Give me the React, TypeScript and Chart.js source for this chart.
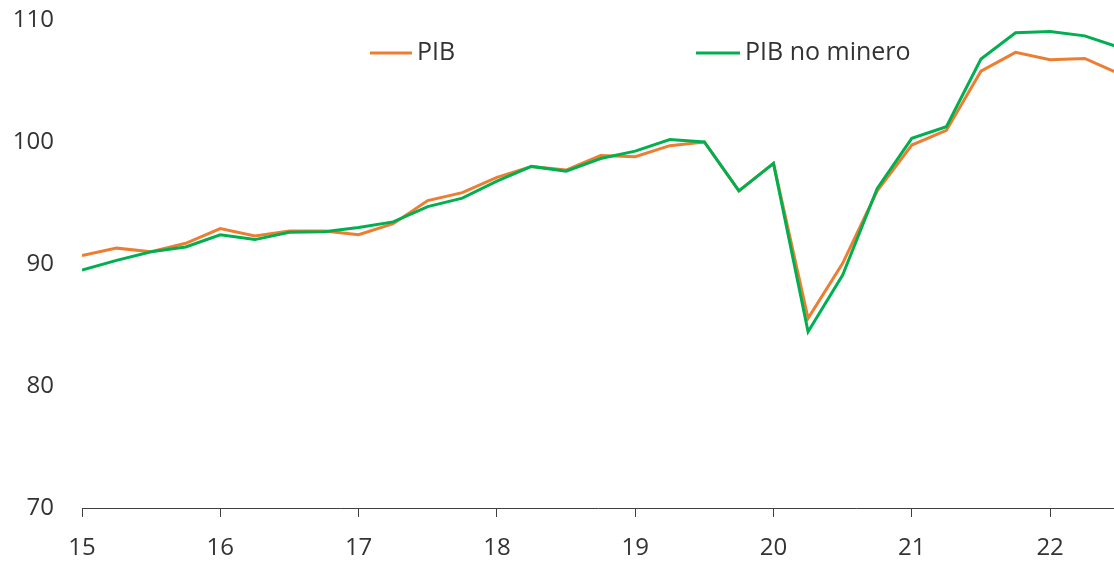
import React, { useEffect, useRef } from "react";
import { Chart, registerables } from "chart.js";

Chart.register(...registerables);

const quarters = [
  15, 15.25, 15.5, 15.75, 16, 16.25, 16.5, 16.75, 17, 17.25, 17.5, 17.75,
  18, 18.25, 18.5, 18.75, 19, 19.25, 19.5, 19.75, 20, 20.25, 20.5, 20.75,
  21, 21.25, 21.5, 21.75, 22, 22.25, 22.5,
];
const pib = [
  90.7, 91.3, 91.0, 91.7, 92.9, 92.3, 92.7, 92.7, 92.4, 93.3, 95.2, 95.85,
  97.1, 98.0, 97.7, 98.9, 98.8, 99.7, 100.0, 96.0, 98.25, 85.55, 90.05, 96.0,
  99.75, 100.95, 105.8, 107.35, 106.75, 106.85, 105.6,
];
const pibNoMinero = [
  89.5, 90.3, 91.0, 91.4, 92.4, 92.0, 92.6, 92.65, 93.0, 93.45, 94.7, 95.4,
  96.8, 98.0, 97.6, 98.65, 99.25, 100.2, 100.0, 96.0, 98.25, 84.45, 89.1, 96.2,
  100.3, 101.25, 106.8, 108.95, 109.05, 108.7, 107.75,
];
const yearTicks = [15, 16, 17, 18, 19, 20, 21, 22];
const yTicks = [70, 80, 90, 100, 110];
const seriesNames = ["PIB", "PIB no minero"];

const ORANGE = "#ED7D31";
const GREEN = "#00B050";
const TEXT = "#333333";
const FONT = "'Open Sans', sans-serif";

const legendPlugin = {
  id: "customLegend",
  afterDraw(chart: any) {
    const ctx = chart.ctx;
    const items = [
      { label: seriesNames[0], color: ORANGE, x0: 370, x1: 412, tx: 417 },
      { label: seriesNames[1], color: GREEN, x0: 696, x1: 740, tx: 745 },
    ];
    const y = 53;
    ctx.save();
    items.forEach((it) => {
      ctx.strokeStyle = it.color;
      ctx.lineWidth = 3;
      ctx.beginPath();
      ctx.moveTo(it.x0, y);
      ctx.lineTo(it.x1, y);
      ctx.stroke();
      ctx.fillStyle = TEXT;
      ctx.font = `25px ${FONT}`;
      ctx.textBaseline = "middle";
      ctx.textAlign = "left";
      ctx.fillText(it.label, it.tx, y);
    });
    ctx.restore();
  },
};

export default function App() {
  const ref = useRef<HTMLCanvasElement>(null);
  useEffect(() => {
    if (!ref.current) return;
    const chart = new Chart(ref.current, {
      type: "line",
      data: {
        datasets: [
          {
            label: seriesNames[1],
            data: quarters.map((q, i) => ({ x: q, y: pibNoMinero[i] })),
            borderColor: GREEN,
            borderWidth: 3,
            pointRadius: 0,
            tension: 0,
            order: 0,
          },
          {
            label: seriesNames[0],
            data: quarters.map((q, i) => ({ x: q, y: pib[i] })),
            borderColor: ORANGE,
            borderWidth: 3,
            pointRadius: 0,
            tension: 0,
            order: 1,
          },
        ],
      },
      options: {
        animation: false,
        responsive: false,
        maintainAspectRatio: false,
        layout: { padding: { top: 20, right: 0, left: 0, bottom: 0 } },
        plugins: {
          legend: { display: false },
          tooltip: { enabled: false },
        },
        scales: {
          x: {
            type: "linear",
            min: 15,
            max: 15 + (1114 - 82) / 138.3,
            afterBuildTicks: (scale: any) => {
              scale.ticks = yearTicks.map((v) => ({ value: v }));
            },
            afterFit: (scale: any) => {
              scale.height = 53;
              scale.paddingLeft = 0;
              scale.paddingRight = 0;
            },
            border: { display: true, color: "#404040", width: 1 },
            grid: {
              display: true,
              drawOnChartArea: false,
              drawTicks: true,
              tickLength: 9,
              color: "#404040",
              lineWidth: 1,
            },
            ticks: {
              autoSkip: false,
              maxRotation: 0,
              padding: 17,
              color: TEXT,
              font: { family: FONT, size: 24 },
              callback: (v: any) => String(v),
            },
          },
          y: {
            min: 70,
            max: 110,
            afterBuildTicks: (scale: any) => {
              scale.ticks = yTicks.map((v) => ({ value: v }));
            },
            afterFit: (scale: any) => {
              scale.width = 82;
              scale.paddingTop = 0;
              scale.paddingBottom = 0;
            },
            border: { display: false },
            grid: { display: false, drawTicks: false },
            ticks: {
              padding: 28,
              color: TEXT,
              font: { family: FONT, size: 24 },
            },
          },
        },
      },
      plugins: [legendPlugin],
    } as any);
    return () => chart.destroy();
  }, []);
  return (
    <div style={{ position: "fixed", left: 0, top: 0, width: 1114, height: 561 }}>
      <canvas ref={ref} width={1114} height={561} style={{ width: 1114, height: 561 }} />
    </div>
  );
}
